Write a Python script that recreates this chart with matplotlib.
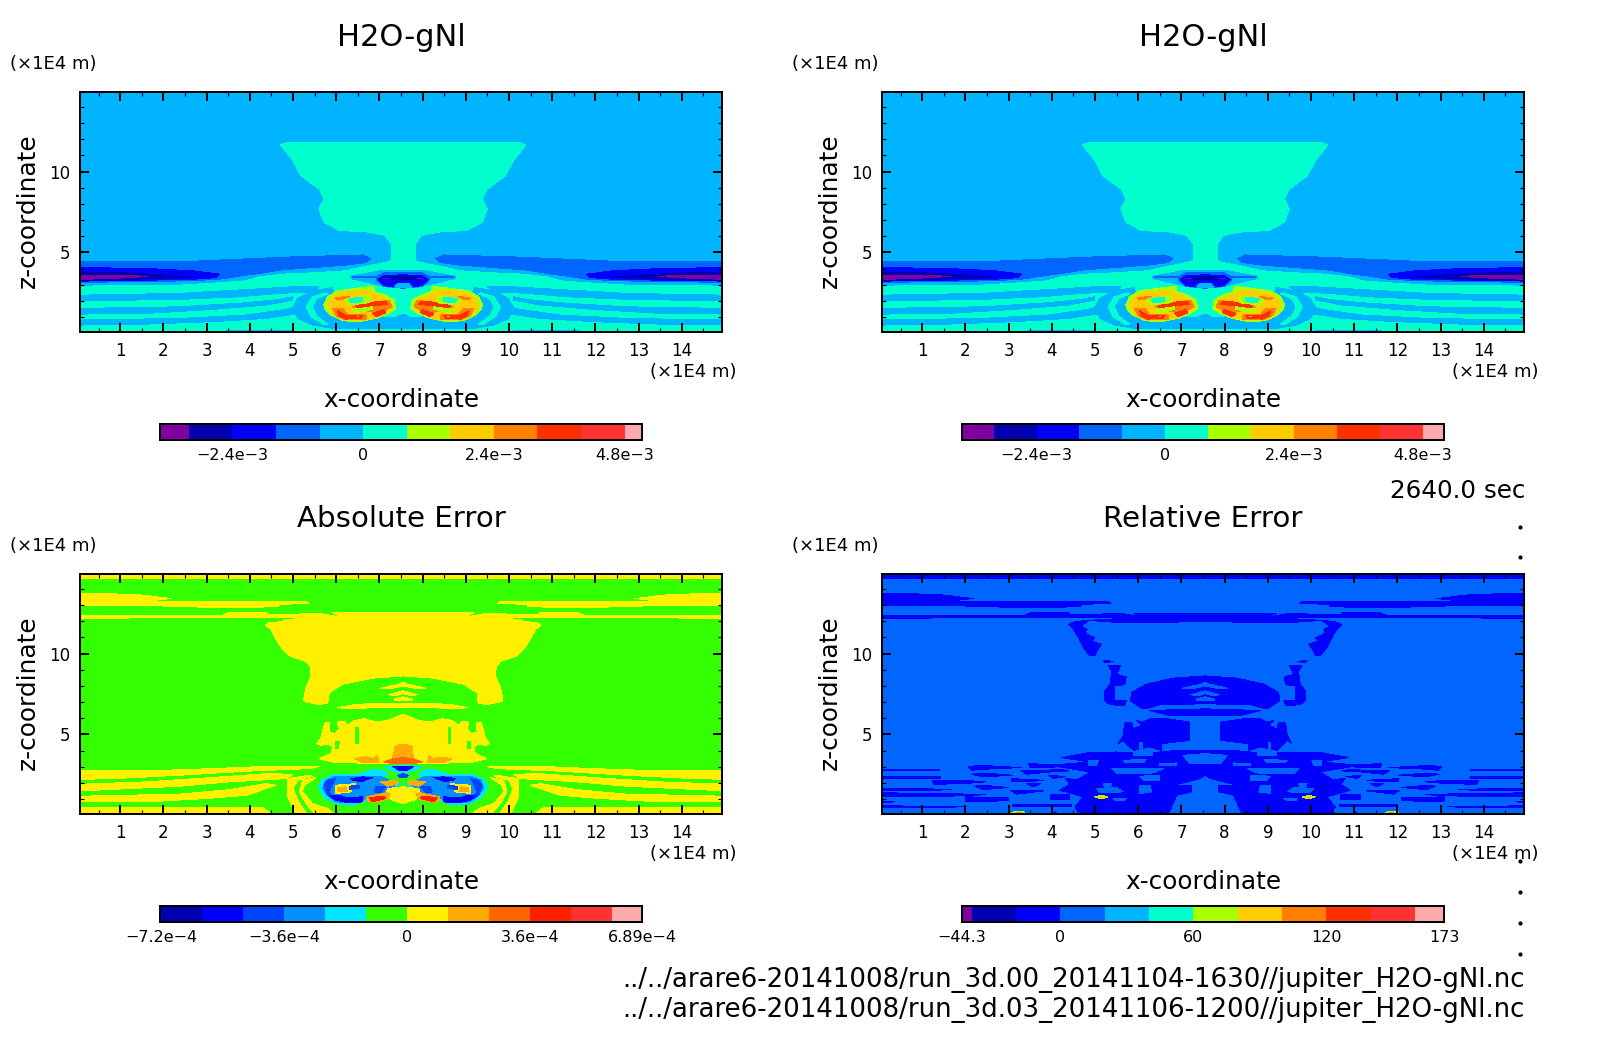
import numpy as np
import matplotlib
matplotlib.use('Agg')
import matplotlib.pyplot as plt
from matplotlib.cm import ScalarMappable
from matplotlib.colors import BoundaryNorm, ListedColormap
from matplotlib.lines import Line2D
from matplotlib.ticker import MultipleLocator

W, H = 1604, 1054

# colour levels
top_colors = ['#8000a0', '#0000b0', '#0000ff', '#0066ff', '#00b4ff', '#00ffcc',
              '#aaff00', '#ffcc00', '#ff8000', '#ff3000', '#ff3333', '#ffaaaa']
abs_colors = ['#8000a0', '#0000b0', '#0000ff', '#0044ff', '#0090ff', '#00e5ff', '#33ff00',
              '#fff000', '#ffaa00', '#ff6600', '#ff2000', '#ff3333', '#ffaaaa']
rel_colors = top_colors

top_bounds_l = [-3.73e-3, -3.2e-3, -2.4e-3, -1.6e-3, -0.8e-3, 0, 0.8e-3, 1.6e-3, 2.4e-3, 3.2e-3, 4e-3, 4.8e-3, 5.12e-3]
top_bounds_r = [-3.79e-3, -3.2e-3, -2.4e-3, -1.6e-3, -0.8e-3, 0, 0.8e-3, 1.6e-3, 2.4e-3, 3.2e-3, 4e-3, 4.8e-3, 5.2e-3]
abs_bounds = [-7.24e-4, -7.2e-4, -6e-4, -4.8e-4, -3.6e-4, -2.4e-4, -1.2e-4, 0, 1.2e-4, 2.4e-4, 3.6e-4, 4.8e-4, 6e-4, 6.89e-4]
rel_bounds = [-44.3, -40, -20, 0, 20, 40, 60, 80, 100, 120, 140, 160, 173]

top_ticks = [-2.4e-3, 0, 2.4e-3, 4.8e-3]
abs_ticks = [-7.2e-4, -3.6e-4, 0, 3.6e-4, 6.89e-4]
rel_ticks = [-44.3, 0, 60, 120, 173]
top_labels = ['\u22122.4e\u22123', '0', '2.4e\u22123', '4.8e\u22123']
abs_labels = ['\u22127.2e\u22124', '\u22123.6e\u22124', '0', '3.6e\u22124', '6.89e\u22124']
rel_labels = ['\u221244.3', '0', '60', '120', '173']

# field is symmetric about this x
x_mirror = 7.55

# contour regions of the left half (x in 1E4 m, z in 1E4 m), x=7.5 stands for the mirror line
# (level, x, z), later ones lie on top of earlier ones
top_regions = [
    (3, [.07, 2.69, 3.76, 5.0, 6.61, 6.8, 6.69, 6.22, 5.45, 4.68, 4.22, 3.76, 3.3, 2.61, 1.07, .07],
        [4.45, 4.45, 4.58, 4.72, 4.84, 4.62, 4.37, 4.21, 4.06, 3.9, 3.69, 3.53, 3.34, 3.24, 3.18, 3.14]),
    (2, [.07, 1.61, 2.69, 3.3, 3.22, 2.61, 1.61, .07], [4.06, 4.0, 3.86, 3.65, 3.44, 3.32, 3.28, 3.22]),
    (1, [.07, 1.22, 2.07, 2.69, 1.76, 1.07, .07], [3.73, 3.73, 3.59, 3.49, 3.38, 3.32, 3.28]),
    (0, [.07, 1.07, 1.65, 1.07, .07], [3.59, 3.59, 3.51, 3.42, 3.32]),
    (5, [.07, 2.38, 3.3, 3.92, 4.22, 4.76, 5.45, 6.22, 6.69, 7.19, 7.27, 7.5, 7.5, .07],
        [2.91, 2.97, 3.12, 3.24, 3.49, 3.65, 3.73, 3.86, 4.14, 4.41, 4.5, 4.5, 0, 0]),
    (5, [7.5, 4.89, 4.71, 5.0, 5.18, 5.6, 5.72, 5.6, 5.72, 6.07, 6.72, 7.13, 7.27, 7.27, 7.5],
        [11.81, 11.81, 11.67, 10.68, 9.75, 8.93, 8.31, 7.7, 6.87, 6.36, 6.26, 6.05, 5.53, 4.0, 4.0]),
    (4, [.07, 2.38, 3.92, 5.0, 5.6, 5.45, 4.68, 3.76, 2.38, .07], [2.35, 2.46, 2.7, 2.87, 2.87, 2.56, 2.46, 2.25, 2.09, 2.0]),
    (4, [.07, 2.38, 3.92, 4.68, 5.0, 5.0, 4.38, 3.15, 1.61, .07], [1.53, 1.63, 1.88, 2.09, 2.25, 2.05, 1.74, 1.47, 1.22, 1.18]),
    (4, [.07, 2.38, 3.92, 4.84, 5.07, 5.15, 4.38, 3.15, 1.61, .07], [.81, .91, 1.12, 1.47, 1.63, 1.22, .91, .71, .56, .5]),
    (4, [5.92, 5.45, 5.11, 5.0, 5.11, 5.45, 5.99, 7.5, 7.5, 6.99, 6.22, 5.92],
        [2.83, 2.62, 2.15, 1.59, .91, .5, .26, .26, .91, 1.02, 1.22, 2.66]),
    (5, [5.76, 5.45, 5.3, 5.42, 5.69, 5.8, 5.55, 5.44, 5.55, 5.8], [2.5, 2.25, 1.63, 1.02, .56, .56, 1.06, 1.63, 2.15, 2.42]),
    (4, [3.45, 5.0, 5.0, 3.45], [.17, .17, 0, 0]),
    (4, [6.34, 6.69, 7.0, 7.5, 7.5, 7.22, 6.84, 6.34], [3.53, 3.69, 3.86, 3.9, 2.83, 2.83, 3.07, 3.38]),
    (3, [6.38, 6.95, 7.11, 7.5, 7.5, 7.38, 7.11, 6.95, 6.92, 6.38], [3.53, 3.53, 3.73, 3.77, 2.77, 2.83, 2.91, 3.24, 3.44, 3.45]),
    (2, [6.97, 7.11, 7.5, 7.5, 7.37, 7.3, 7.11], [3.32, 3.57, 3.61, 3.08, 3.08, 2.87, 2.95]),
    (1, [7.22, 7.38, 7.5, 7.5, 7.25], [3.44, 3.53, 3.53, 3.3, 3.3]),
    (0, [7.07, 7.25, 7.25, 7.07], [3.34, 3.34, 3.39, 3.39]),
    (4, [7.42, 7.36, 7.5, 7.5], [3.08, 2.83, 2.83, 3.08]),
    (6, [5.71, 5.8, 6.03, 6.45, 6.88, 6.9, 7.15, 7.34, 7.38, 7.22, 6.92, 6.53, 6.15, 5.88, 5.75],
        [1.74, 2.25, 2.62, 2.77, 2.91, 2.56, 2.35, 2.05, 1.53, 1.22, .91, .71, .77, 1.12, 1.43]),
    (7, [5.8, 5.92, 6.15, 6.69, 6.99, 7.26, 7.3, 7.11, 6.84, 6.45, 6.15, 5.92],
        [1.74, 2.25, 2.56, 2.66, 2.35, 1.94, 1.53, 1.22, .91, .81, .85, 1.22]),
    (8, [5.99, 6.3, 6.22, 6.03], [2.19, 2.29, 2.11, 2.05]),
    (8, [6.38, 7.22, 7.3, 6.99, 6.61], [1.63, 2.05, 1.63, 1.22, 1.43]),
    (8, [5.92, 6.15, 6.26, 6.69, 6.69, 6.22, 5.99], [1.53, 1.53, 1.18, 1.12, .87, .83, 1.08]),
    (9, [6.45, 6.76, 7.15, 7.19, 6.84, 6.49], [1.74, 1.9, 1.98, 1.8, 1.67, 1.53]),
    (9, [6.84, 7.11, 7.15, 6.92], [1.22, 1.47, 1.26, 1.02]),
    (9, [6.03, 6.15, 6.26, 6.61, 6.57, 6.22, 6.07], [1.39, 1.22, 1.08, 1.12, .91, .87, 1.06]),
    (6, [6.19, 6.76, 6.76, 6.3], [2.09, 2.35, 1.88, 1.74]),
    (5, [6.3, 6.61, 6.61, 6.34], [2.15, 2.21, 1.94, 1.9]),
    (6, [6.38, 6.84, 6.84, 6.45], [1.47, 1.63, 1.47, 1.26]),
    (11, [6.47, 6.53, 6.53, 6.47], [1.08, 1.08, 1.0, 1.0]),
    (4, [7.38, 7.5, 7.5, 7.45], [.98, 1.18, .98, .85]),
]

# shapes that the absolute and the relative error share
strip_top = ([.07, 7.5, 7.5, .07], [14.65, 14.65, 15, 15])
band_b = ([.07, .84, 1.57, 1.99, 2.19, 1.99, 1.42, 1.99, 3.15, 4.69, 5.3, 5.36, 4.69, 4.65, 3.22, 2.3, .84, .07],
          [13.7, 13.7, 13.62, 13.46, 13.42, 13.35, 13.29, 13.25, 13.25, 13.25, 13.25, 13.11, 13.05, 12.9, 12.84, 12.94, 12.98, 12.98])
band_c = ([.07, 3.38, 3.53, 4.38, 4.42, 5.61, 6.11, 5.61, 4.22, .07],
          [12.37, 12.39, 12.55, 12.55, 12.39, 12.49, 12.26, 12.22, 12.22, 12.2])
stripe_1 = ([7.03, 7.45, 7.5, 7.5, 7.3], [7.86, 8.11, 8.21, 8.0, 7.86])
stripe_2 = ([7.22, 7.5, 7.5, 7.38], [7.45, 7.7, 7.53, 7.39])
stripe_3 = ([7.34, 7.5, 7.5, 7.34], [7.18, 7.33, 7.12, 7.08])

abs_regions = [
    (7, *strip_top),
    (7, *band_b),
    (7, *band_c),
    (7, [7.5, 5.92, 6.11, 5.61, 4.84, 4.72, 4.45, 4.36, 4.49, 4.61, 4.76, 4.92, 5.3, 5.39, 5.42, 5.3, 5.24, 5.32, 5.61, 5.8, 5.82, 5.84, 6.15, 6.84, 7.5],
        [12.53, 12.53, 12.26, 12.22, 12.12, 11.98, 11.91, 11.77, 11.5, 10.88, 10.27, 9.86, 9.51, 9.24, 8.62, 7.9, 7.08, 7.0, 6.85, 6.93, 7.08, 7.59, 8.11, 8.48, 8.62]),
    (7, *stripe_1),
    (7, *stripe_2),
    (7, *stripe_3),
    (7, [6.03, 6.45, 6.99, 7.5, 7.5, 6.99, 6.45], [6.65, 6.85, 6.93, 6.89, 6.65, 6.69, 6.58]),
    (7, [5.55, 5.65, 5.69, 5.75, 5.85, 5.84, 5.98, 6.07, 6.03, 6.19, 6.26, 6.42, 6.65, 6.92, 7.19, 7.38, 7.5, 7.5, 6.84, 5.92, 5.61, 5.88, 5.92, 5.8, 5.65],
        [4.42, 4.79, 5.25, 5.76, 5.74, 5.14, 5.04, 5.35, 5.76, 5.82, 5.56, 5.86, 5.97, 5.76, 5.86, 6.07, 6.23, 3.19, 3.19, 3.29, 3.5, 3.81, 4.22, 4.42, 4.32]),
    (6, [6.44, 6.52, 6.52, 6.45], [5.45, 5.45, 4.42, 4.42]),
    (6, [5.99, 6.07, 6.05, 5.99], [4.53, 4.53, 4.12, 4.12]),
    (8, [7.34, 7.45, 7.5, 7.5, 7.3, 7.34], [4.22, 4.36, 4.36, 3.56, 3.56, 3.91]),
    (9, [7.1, 7.34, 7.5, 7.5, 7.3], [3.3, 3.5, 3.56, 3.19, 3.19]),
    (8, [6.42, 6.69, 6.88, 6.95, 6.99, 6.61], [3.5, 3.6, 3.5, 3.7, 3.29, 3.25]),
    (7, [.07, 1.61, 3.15, 4.38, 5.61, 5.38, 3.92, 2.38, .84, .07], [2.74, 2.74, 2.88, 3.02, 3.02, 2.88, 2.72, 2.47, 2.26, 2.22]),
    (7, [.07, 1.61, 3.15, 4.38, 5.0, 4.84, 3.53, 2.38, .07], [1.91, 2.06, 2.33, 2.57, 2.53, 2.26, 2.06, 1.79, 1.5]),
    (7, [.07, 2.38, 3.53, 4.38, 4.61, 3.92, 3.0, 1.61, .07], [1.17, 1.3, 1.58, 1.95, 1.85, 1.23, 1.03, .82, .82]),
    (7, [.07, 4.3, 4.53, .07], [.47, .47, 0, 0]),
    (7, [4.88, 5.38, 5.45, 5.11, 5.0, 5.11, 5.34, 5.07, 4.88], [2.26, 2.47, 2.41, 2.16, 1.65, .93, 0, 0, 1.13]),
    (7, [5.22, 5.53, 5.26, 5.22, 5.45, 5.8, 5.99, 5.53, 5.3, 5.15], [2.16, 2.33, 1.85, 1.44, .72, .41, 0, 0, .72, 1.44]),
    (5, [5.59, 5.67, 5.92, 6.45, 6.84, 7.11, 7.19, 6.92, 7.3, 7.49, 7.3, 6.99, 6.65, 6.38, 5.99, 5.72],
        [1.71, 2.2, 2.49, 2.49, 2.82, 2.78, 2.47, 2.26, 2.16, 1.95, 1.54, 1.13, .82, .62, .72, 1.13]),
    (4, [5.69, 5.75, 5.99, 7.03, 7.34, 7.34, 7.03, 6.69, 6.38, 5.99, 5.8], [1.65, 2.16, 2.41, 2.41, 2.06, 1.65, 1.23, 1.03, .76, .82, 1.23]),
    (7, [7.19, 7.5, 7.5, 7.3, 7.15], [1.65, 1.75, .72, .93, 1.23]),
    (7, [5.99, 6.45, 6.34, 5.99], [1.85, 1.95, 1.44, 1.34]),
    (8, [6.03, 6.22, 6.26, 6.05], [1.71, 1.75, 1.44, 1.44]),
    (3, [5.72, 5.8, 5.99, 5.92, 5.84, 5.95, 5.8], [1.85, 2.16, 2.26, 1.95, 1.44, 1.03, 1.23]),
    (2, [6.34, 6.61, 6.84, 6.61, 6.42], [2.26, 2.37, 2.33, 2.1, 2.12]),
    (2, [5.84, 6.07, 6.22, 6.61, 6.61, 6.3, 5.99], [1.23, 1.23, 1.09, 1.13, .82, .76, .93]),
    (3, [6.3, 6.53, 6.53, 6.3], [1.79, 1.85, 1.65, 1.6]),
    (3, [6.92, 7.15, 7.03, 6.88], [1.75, 1.79, 1.38, 1.44]),
    (8, [6.7, 7.15, 7.26, 7.19, 6.84, 6.7], [1.13, 1.38, 1.34, .97, .78, .93]),
    (10, [6.76, 7.11, 7.15, 6.84], [1.09, 1.17, 1.03, .82]),
    (8, [7.03, 7.38, 7.44, 7.19], [2.06, 2.16, 1.95, 1.79]),
    (5, [7.11, 7.5, 7.5, 7.38], [2.98, 3.09, 2.67, 2.67]),
    (2, [7.3, 7.5, 7.5, 7.45], [3.02, 3.02, 2.74, 2.78]),
    (3, [7.42, 7.5, 7.5, 7.49], [2.47, 2.57, 2.33, 2.33]),
    (6, [7.4, 7.5, 7.5, 7.2], [.4, .6, 0, 0]),
]

rel_regions = [
    (2, *strip_top),
    (2, *band_b),
    (2, *band_c),
    (2, [5.9, 7.5, 7.5, 5.62, 4.85, 5.5, 6.12], [12.49, 12.49, 11.98, 11.91, 12.06, 12.16, 12.26]),
    (2, [4.39, 4.54, 4.85, 4.73, 4.65, 4.82, 4.77, 4.81, 5.0, 4.92, 5.15, 5.04, 5.0, 4.89, 4.73, 4.62, 4.5],
        [11.81, 11.98, 12.06, 11.81, 11.71, 11.5, 11.4, 11.19, 10.99, 10.78, 10.58, 10.16, 9.86, 9.86, 10.37, 10.99, 11.5]),
    (2, [5.19, 5.42, 5.23], [9.59, 9.51, 9.44]),
    (2, [5.31, 5.59, 5.5, 5.72, 5.69, 5.46, 5.46, 5.73, 5.69, 5.5, 5.3, 5.23, 5.23, 5.35, 5.39],
        [9.24, 9.24, 8.72, 8.56, 8.07, 8.0, 7.1, 7.1, 6.79, 6.79, 6.9, 7.1, 7.7, 8.11, 8.93]),
    (2, [5.82, 5.85, 6.19, 6.81, 7.5, 7.5, 7.5, 6.5, 6.27, 6.1, 5.95], [7.08, 7.59, 8.11, 8.48, 8.62, 7.1, 6.89, 6.85, 6.65, 6.58, 6.85]),
    (3, *stripe_1),
    (3, *stripe_2),
    (3, *stripe_3),
    (2, [6.27, 7.5, 7.5, 6.73], [6.48, 6.58, 6.17, 6.17]),
    (2, [5.54, 5.65, 5.69, 5.85, 5.89, 6.08, 5.96, 6.12, 6.27, 6.65, 7.19, 7.19, 6.54, 6.54, 6.27, 5.89, 5.65],
        [4.42, 4.94, 5.7, 5.76, 5.35, 5.56, 5.86, 5.76, 5.97, 5.97, 5.76, 4.63, 4.42, 4.01, 4.22, 4.01, 4.63]),
    (3, [6.02, 6.1, 6.1, 6.02], [4.53, 4.53, 4.05, 4.05]),
    (2, [4.23, 4.81, 5.5, 6.12, 6.89, 7.5, 7.5, 7.42, 6.81, 7.23, 7.23, 6.89, 6.69, 4.65, 4.54, 4.73, 4.19, 4.58, 4.89, 3.96, 4.89],
        [3.56, 3.85, 3.91, 3.81, 4.01, 4.01, 2.47, 2.26, 1.85, 1.85, 1.44, 1.23, 0, 0, .51, 1.13, 1.54, 2.16, 2.67, 3.09, 3.29]),
    (3, [5.89, 6.35, 6.35, 5.89], [3.91, 3.91, 3.66, 3.66]),
    (3, [4.85, 5.08, 5.04, 4.85], [3.4, 3.4, 3.09, 3.09]),
    (3, [5.65, 6.19, 6.12, 5.69], [3.4, 3.44, 3.25, 3.25]),
    (3, [6.5, 6.89, 6.89, 6.5], [3.19, 3.23, 3.09, 3.09]),
    (3, [5.39, 6.58, 6.35, 5.5], [2.88, 2.88, 2.61, 2.57]),
    (3, [7.04, 7.5, 7.5, 7.19], [3.7, 3.81, 3.19, 3.19]),
    (3, [5.04, 5.5, 5.65, 5.12], [1.65, 1.71, 1.44, 1.38]),
    (3, [6.04, 6.27, 6.31, 6.04], [1.85, 1.85, 1.44, 1.34]),
    (3, [5.42, 5.73, 5.65, 5.46], [1.03, 1.03, .88, .88]),
    (3, [5.19, 5.39, 5.35, 5.23], [1.95, 1.95, 1.71, 1.71]),
    (3, [6.04, 6.5, 6.5, 6.12], [2.41, 2.47, 2.16, 2.16]),
    (2, [.07, 1.42, 1.42, .07], [2.84, 2.84, 2.72, 2.72]),
    (2, [.07, 1.42, 1.42, .07], [2.41, 2.37, 2.26, 2.26]),
    (2, [1.23, 1.96, 2.46, 1.96, 1.27], [2.12, 2.16, 2.06, 1.95, 1.91]),
    (2, [2.08, 2.31, 3.31, 2.65, 2.15], [2.98, 3.09, 2.94, 2.88, 2.78]),
    (2, [2.13, 2.42, 3.08, 2.42], [2.53, 2.61, 2.47, 2.37]),
    (2, [.07, .89, 1.69, .89, .07], [1.67, 1.65, 1.58, 1.5, 1.5]),
    (2, [2.21, 2.42, 3.0, 2.42], [1.79, 1.85, 1.71, 1.58]),
    (2, [.07, 1.58, 2.46, 1.58, .07], [1.38, 1.34, 1.26, 1.17, 1.17]),
    (2, [.07, .35, .07], [.86, .82, .78]),
    (2, [2.0, 3.0, 3.0, 2.0], [1.13, 1.09, .88, .86]),
    (2, [.07, .58, 1.96, .89, .07], [.62, .56, .51, .47, .47]),
    (2, [3.04, 3.81, 3.19], [1.54, 1.5, 1.3]),
    (2, [3.06, 3.81, 3.42, 3.08], [2.26, 2.16, 2.06, 2.06]),
    (2, [3.27, 4.12, 3.42], [2.78, 2.72, 2.53]),
    (2, [3.46, 4.35, 3.96, 3.5], [3.19, 3.09, 2.94, 2.94]),
    (2, [3.96, 4.39, 4.35, 4.0], [2.84, 2.78, 2.72, 2.72]),
    (2, [3.92, 4.31, 4.04], [2.47, 2.39, 2.27]),
    (2, [3.42, 3.73, 3.58], [1.95, 1.95, 1.75]),
    (2, [4.31, 4.89, 4.42], [2.26, 2.16, 1.91]),
    (2, [3.96, 4.42, 4.42, 3.96], [1.3, 1.26, .99, .99]),
    (2, [3.08, 4.46, 4.46, 3.08], [.72, .72, .51, .51]),
    (2, [3.96, 4.08, 4.19], [0, .2, 0]),
    (6, [5.0, 5.15, 5.3, 5.15], [1.13, 1.22, 1.13, 1.0]),
    (7, [5.08, 5.15, 5.22, 5.15], [1.13, 1.18, 1.13, 1.05]),
    (6, [3.0, 3.12, 3.32, 3.44], [0, .22, .22, 0]),
    (8, [3.14, 3.2, 3.3, 3.36], [0, .16, .16, 0]),
]

dot_y = [527, 557, 861, 892, 923, 954]

panels = [
    dict(left=80, top=92, unit_x=10, title='H2O-gNl', title_y=37, title_size=22, bg=4, regions=top_regions,
         colors=top_colors, bounds=top_bounds_l, ticks=top_ticks, labels=top_labels),
    dict(left=882, top=92, unit_x=792, title='H2O-gNl', title_y=37, title_size=22, bg=4, regions=top_regions,
         colors=top_colors, bounds=top_bounds_r, ticks=top_ticks, labels=top_labels),
    dict(left=80, top=574, unit_x=10, title='Absolute Error', title_y=519, title_size=21.1, bg=6, regions=abs_regions,
         colors=abs_colors, bounds=abs_bounds, ticks=abs_ticks, labels=abs_labels),
    dict(left=882, top=574, unit_x=792, title='Relative Error', title_y=519, title_size=21.2, bg=3, regions=rel_regions,
         colors=rel_colors, bounds=rel_bounds, ticks=rel_ticks, labels=rel_labels),
]

fig = plt.figure(figsize=(W / 100, H / 100), dpi=100, facecolor='white')


def put_text(x, y, s, size, ha='center', rotation=0):
    fig.text(x / W, 1 - y / H, s, fontsize=size, ha=ha, va='center', rotation=rotation, color='black')


for p in panels:
    left, top = p['left'], p['top']
    ax = fig.add_axes([left / W, 1 - (top + 240) / H, 642 / W, 240 / H])
    ax.set_facecolor(p['colors'][p['bg']])
    for level, xs, zs in p['regions']:
        xs = np.array(xs)
        xs = np.where(xs >= 7.5, x_mirror, xs)
        ax.fill(xs, zs, facecolor=p['colors'][level], edgecolor='none', antialiased=False)
        ax.fill(2 * x_mirror - xs, zs, facecolor=p['colors'][level], edgecolor='none', antialiased=False)
    ax.set_xlim(0.07, 14.93)
    ax.set_ylim(0.07, 14.93)
    ax.set_xticks(range(1, 15))
    ax.set_yticks([5, 10])
    ax.xaxis.set_minor_locator(MultipleLocator(0.5))
    ax.yaxis.set_minor_locator(MultipleLocator(1))
    ax.tick_params(which='major', direction='in', top=True, right=True, length=6.5, width=1.44, labelsize=12)
    ax.tick_params(which='minor', direction='in', top=True, right=True, length=3.2, width=0.8)
    ax.tick_params(axis='x', which='major', pad=7.5)
    ax.tick_params(axis='y', which='major', pad=7)
    for sp in ax.spines.values():
        sp.set_linewidth(1.44)

    cx = left + 321
    put_text(cx, p['title_y'], p['title'], p['title_size'])
    put_text(p['unit_x'], top - 28, '(\u00d71E4 m)', 13, ha='left')
    put_text(left + 656, top + 280, '(\u00d71E4 m)', 13, ha='right')
    put_text(cx, top + 308, 'x-coordinate', 17.8)
    put_text(left - 52, top + 119, 'z-coordinate', 17.8, rotation=90)

    # colour bar below the panel
    cax = fig.add_axes([(left + 80) / W, 1 - (top + 348) / H, 482 / W, 16.5 / H])
    sm = ScalarMappable(norm=BoundaryNorm(p['bounds'], len(p['colors'])), cmap=ListedColormap(p['colors']))
    cb = fig.colorbar(sm, cax=cax, orientation='horizontal', spacing='proportional', ticks=p['ticks'])
    cb.ax.set_xticklabels(p['labels'])
    cb.ax.minorticks_off()
    cb.ax.tick_params(length=0, pad=5.5, labelsize=11.5)
    cb.outline.set_linewidth(1.44)

put_text(1525, 491, '2640.0 sec', 17.7, ha='right')
put_text(1525, 980, '../../arare6-20141008/run_3d.00_20141104-1630//jupiter_H2O-gNl.nc', 18.7, ha='right')
put_text(1525, 1010, '../../arare6-20141008/run_3d.03_20141106-1200//jupiter_H2O-gNl.nc', 18.7, ha='right')

for y in dot_y:
    fig.add_artist(Line2D([1520 / W], [1 - y / H], marker='o', markersize=2, color='black', linestyle='none'))

fig.savefig('out.png', dpi=100)
